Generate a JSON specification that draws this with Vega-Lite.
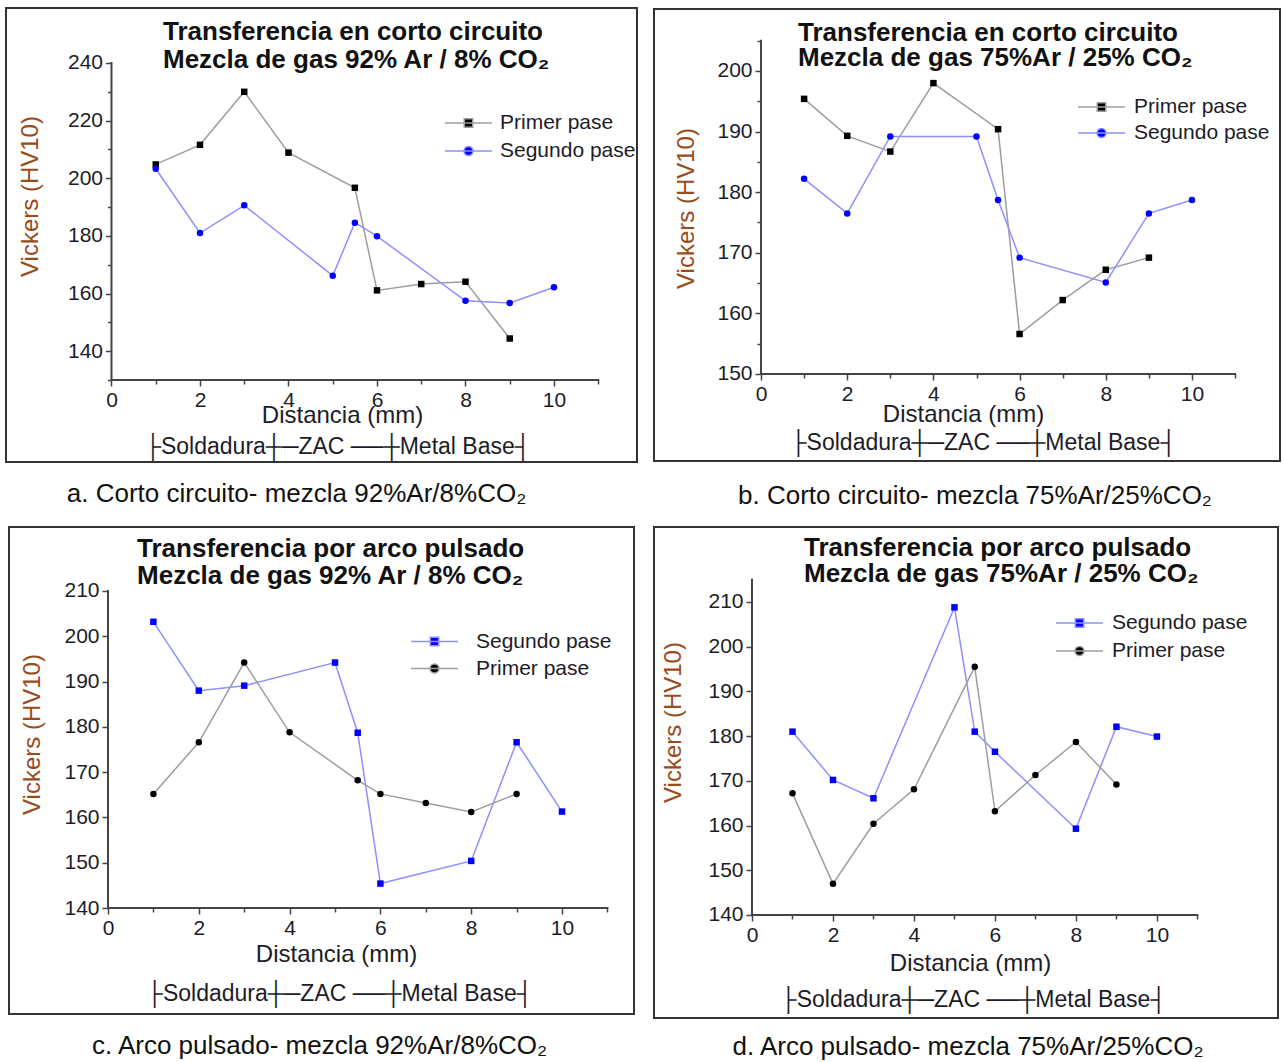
{
  "$schema": "https://vega.github.io/schema/vega-lite/v6.json",
  "padding": {"left": 5, "top": 7, "right": 0, "bottom": 0},
  "background": "white",
  "datasets": {
    "one": [{"k": 1}],
    "a": [
      {"d": 1, "hv": 204.8, "serie": "Primer pase"},
      {"d": 2, "hv": 211.6, "serie": "Primer pase"},
      {"d": 3, "hv": 230.0, "serie": "Primer pase"},
      {"d": 4, "hv": 208.9, "serie": "Primer pase"},
      {"d": 5.5, "hv": 196.7, "serie": "Primer pase"},
      {"d": 6, "hv": 161.1, "serie": "Primer pase"},
      {"d": 7, "hv": 163.3, "serie": "Primer pase"},
      {"d": 8, "hv": 164.1, "serie": "Primer pase"},
      {"d": 9, "hv": 144.4, "serie": "Primer pase"},
      {"d": 1, "hv": 203.3, "serie": "Segundo pase"},
      {"d": 2, "hv": 181.0, "serie": "Segundo pase"},
      {"d": 3, "hv": 190.6, "serie": "Segundo pase"},
      {"d": 5, "hv": 166.2, "serie": "Segundo pase"},
      {"d": 5.5, "hv": 184.6, "serie": "Segundo pase"},
      {"d": 6, "hv": 179.9, "serie": "Segundo pase"},
      {"d": 8, "hv": 157.5, "serie": "Segundo pase"},
      {"d": 9, "hv": 156.7, "serie": "Segundo pase"},
      {"d": 10, "hv": 162.2, "serie": "Segundo pase"}
    ],
    "b": [
      {"d": 1, "hv": 195.4, "serie": "Primer pase"},
      {"d": 2, "hv": 189.3, "serie": "Primer pase"},
      {"d": 3, "hv": 186.7, "serie": "Primer pase"},
      {"d": 4, "hv": 198.0, "serie": "Primer pase"},
      {"d": 5.5, "hv": 190.4, "serie": "Primer pase"},
      {"d": 6, "hv": 156.6, "serie": "Primer pase"},
      {"d": 7, "hv": 162.2, "serie": "Primer pase"},
      {"d": 8, "hv": 167.2, "serie": "Primer pase"},
      {"d": 9, "hv": 169.2, "serie": "Primer pase"},
      {"d": 1, "hv": 182.2, "serie": "Segundo pase"},
      {"d": 2, "hv": 176.5, "serie": "Segundo pase"},
      {"d": 3, "hv": 189.2, "serie": "Segundo pase"},
      {"d": 5, "hv": 189.2, "serie": "Segundo pase"},
      {"d": 5.5, "hv": 178.7, "serie": "Segundo pase"},
      {"d": 6, "hv": 169.2, "serie": "Segundo pase"},
      {"d": 8, "hv": 165.1, "serie": "Segundo pase"},
      {"d": 9, "hv": 176.5, "serie": "Segundo pase"},
      {"d": 10, "hv": 178.7, "serie": "Segundo pase"}
    ],
    "c": [
      {"d": 1, "hv": 203.2, "serie": "Segundo pase"},
      {"d": 2, "hv": 188.0, "serie": "Segundo pase"},
      {"d": 3, "hv": 189.1, "serie": "Segundo pase"},
      {"d": 5, "hv": 194.2, "serie": "Segundo pase"},
      {"d": 5.5, "hv": 178.7, "serie": "Segundo pase"},
      {"d": 6, "hv": 145.4, "serie": "Segundo pase"},
      {"d": 8, "hv": 150.4, "serie": "Segundo pase"},
      {"d": 9, "hv": 176.6, "serie": "Segundo pase"},
      {"d": 10, "hv": 161.3, "serie": "Segundo pase"},
      {"d": 1, "hv": 165.2, "serie": "Primer pase"},
      {"d": 2, "hv": 176.6, "serie": "Primer pase"},
      {"d": 3, "hv": 194.2, "serie": "Primer pase"},
      {"d": 4, "hv": 178.8, "serie": "Primer pase"},
      {"d": 5.5, "hv": 168.2, "serie": "Primer pase"},
      {"d": 6, "hv": 165.2, "serie": "Primer pase"},
      {"d": 7, "hv": 163.2, "serie": "Primer pase"},
      {"d": 8, "hv": 161.2, "serie": "Primer pase"},
      {"d": 9, "hv": 165.2, "serie": "Primer pase"}
    ],
    "dd": [
      {"d": 1, "hv": 181.0, "serie": "Segundo pase"},
      {"d": 2, "hv": 170.2, "serie": "Segundo pase"},
      {"d": 3, "hv": 166.1, "serie": "Segundo pase"},
      {"d": 5, "hv": 208.8, "serie": "Segundo pase"},
      {"d": 5.5, "hv": 181.0, "serie": "Segundo pase"},
      {"d": 6, "hv": 176.5, "serie": "Segundo pase"},
      {"d": 8, "hv": 159.3, "serie": "Segundo pase"},
      {"d": 9, "hv": 182.1, "serie": "Segundo pase"},
      {"d": 10, "hv": 179.9, "serie": "Segundo pase"},
      {"d": 1, "hv": 167.2, "serie": "Primer pase"},
      {"d": 2, "hv": 147.0, "serie": "Primer pase"},
      {"d": 3, "hv": 160.4, "serie": "Primer pase"},
      {"d": 4, "hv": 168.1, "serie": "Primer pase"},
      {"d": 5.5, "hv": 195.5, "serie": "Primer pase"},
      {"d": 6, "hv": 163.2, "serie": "Primer pase"},
      {"d": 7, "hv": 171.3, "serie": "Primer pase"},
      {"d": 8, "hv": 178.7, "serie": "Primer pase"},
      {"d": 9, "hv": 169.2, "serie": "Primer pase"}
    ]
  },
  "columns": 2,
  "concat": [
    {
      "width": 631, "height": 454,
      "title": {"text": "a. Corto circuito- mezcla 92%Ar/8%CO₂", "orient": "bottom", "anchor": "middle", "frame": "group", "offset": 19, "dx": -25, "baseline": "top"},
      "layer": [
        {"data": {"name": "a"}, "transform": [{"filter": "false"}], "mark": {"type": "point", "filled": true, "opacity": 1},
         "encoding": {
           "x": {"field": "d", "type": "quantitative", "scale": {"domain": [-2.384, 11.876], "nice": false, "zero": false},
                 "axis": {"values": [0,1,2,3,4,5,6,7,8,9,10,11], "labelExpr": "datum.value % 2 === 0 ? datum.label : ''",
                          "tickSize": {"condition": {"test": "datum.value % 2 === 0", "value": 6}, "value": 4},
                          "offset": -82, "title": "Distancia (mm)", "titleX": 336, "titleY": 35, "titleBaseline": "middle", "titleAlign": "center"}},
           "y": {"field": "hv", "type": "quantitative", "scale": {"domain": [101.55, 259.08], "nice": false, "zero": false},
                 "axis": {"values": [130,140,150,160,170,180,190,200,210,220,230,240], "labelExpr": "datum.value % 20 === 0 ? datum.label : ''",
                          "tickSize": {"condition": {"test": "datum.value % 20 === 0", "value": 6}, "value": 4},
                          "offset": -105.5, "title": "Vickers (HV10)", "titleX": -81.5, "titleY": 188, "titleAngle": -90, "titleBaseline": "middle", "titleAlign": "center"}},
           "fill": {"field": "serie", "type": "nominal", "scale": {"domain": ["Primer pase", "Segundo pase"], "range": ["#000000", "#0000ff"]},
                    "legend": {"title": null, "orient": "none", "legendX": 452, "legendY": 104.5, "direction": "vertical", "labelOffset": 21, "rowPadding": 6, "padding": 0, "symbolSize": 100, "symbolStrokeWidth": 1.5, "symbolOpacity": 1}},
           "stroke": {"field": "serie", "type": "nominal", "scale": {"domain": ["Primer pase", "Segundo pase"], "range": ["#9e9e9e", "#8f8fff"]}},
           "shape": {"field": "serie", "type": "nominal", "scale": {"domain": ["Primer pase", "Segundo pase"], "range": ["M-4.7,0H4.7M-0.85,-0.85H0.85V0.85H-0.85Z", "M-4.7,0H4.7M0.9,0A0.9,0.9,0,1,1,-0.9,0A0.9,0.9,0,1,1,0.9,0Z"]}}
         }},
        {"data": {"name": "one"}, "mark": {"type": "rule", "color": "#444444", "strokeWidth": 2, "strokeCap": "square"},
         "encoding": {"x": {"datum": 0, "type": "quantitative"}, "y": {"datum": 130, "type": "quantitative"}, "y2": {"datum": 240}}},
        {"data": {"name": "one"}, "mark": {"type": "rule", "color": "#444444", "strokeWidth": 2, "strokeCap": "square"},
         "encoding": {"x": {"datum": 0, "type": "quantitative"}, "x2": {"datum": 11}, "y": {"datum": 130, "type": "quantitative"}}},
        {"data": {"name": "a"}, "mark": {"type": "line", "strokeWidth": 1.5},
         "encoding": {"x": {"field": "d", "type": "quantitative"}, "y": {"field": "hv", "type": "quantitative"}, "stroke": {"field": "serie", "type": "nominal"}}},
        {"data": {"name": "a"}, "transform": [{"filter": "datum.serie === 'Primer pase'"}], "mark": {"type": "point", "filled": true, "size": 42, "opacity": 1, "shape": "square"},
         "encoding": {"x": {"field": "d", "type": "quantitative"}, "y": {"field": "hv", "type": "quantitative"}, "fill": {"field": "serie", "type": "nominal"}}},
        {"data": {"name": "a"}, "transform": [{"filter": "datum.serie === 'Segundo pase'"}], "mark": {"type": "point", "filled": true, "size": 42, "opacity": 1, "shape": "circle"},
         "encoding": {"x": {"field": "d", "type": "quantitative"}, "y": {"field": "hv", "type": "quantitative"}, "fill": {"field": "serie", "type": "nominal"}}},
        {"data": {"name": "one"}, "mark": {"type": "text", "align": "left", "baseline": "middle", "fontSize": 26, "fontWeight": "bold", "lineHeight": 28, "color": "#111111"},
         "encoding": {"x": {"datum": 1.164, "type": "quantitative"}, "y": {"datum": 250.76, "type": "quantitative"}, "text": {"value": ["Transferencia en corto circuito", "Mezcla de gas 92% Ar / 8% CO₂"]}}},
        {"data": {"name": "one"}, "mark": {"type": "text", "align": "left", "baseline": "middle", "fontSize": 23, "color": "#1c1c28"},
         "encoding": {"x": {"datum": 0.75, "type": "quantitative"}, "y": {"datum": 106.75, "type": "quantitative"}, "text": {"value": "├Soldadura┼─ZAC ──┼Metal Base┤"}}}
      ]
    },
    {
      "width": 626, "height": 452,
      "title": {"text": "b. Corto circuito- mezcla 75%Ar/25%CO₂", "orient": "bottom", "anchor": "middle", "frame": "group", "offset": 21.5, "dx": 8, "baseline": "top"},
      "layer": [
        {"data": {"name": "b"}, "transform": [{"filter": "false"}], "mark": {"type": "point", "filled": true, "opacity": 1},
         "encoding": {
           "x": {"field": "d", "type": "quantitative", "scale": {"domain": [-2.483, 12.042], "nice": false, "zero": false},
                 "axis": {"values": [0,1,2,3,4,5,6,7,8,9,10,11], "labelExpr": "datum.value % 2 === 0 ? datum.label : ''",
                          "tickSize": {"condition": {"test": "datum.value % 2 === 0", "value": 6}, "value": 4},
                          "offset": -87, "title": "Distancia (mm)", "titleX": 309, "titleY": 40, "titleBaseline": "middle", "titleAlign": "center"}},
           "y": {"field": "hv", "type": "quantitative", "scale": {"domain": [135.64, 210.23], "nice": false, "zero": false},
                 "axis": {"values": [150,155,160,165,170,175,180,185,190,195,200,205], "labelExpr": "datum.value % 10 === 0 ? datum.label : ''",
                          "tickSize": {"condition": {"test": "datum.value % 10 === 0", "value": 6}, "value": 4},
                          "offset": -107, "title": "Vickers (HV10)", "titleX": -75, "titleY": 199, "titleAngle": -90, "titleBaseline": "middle", "titleAlign": "center"}},
           "fill": {"field": "serie", "type": "nominal", "scale": {"domain": ["Primer pase", "Segundo pase"], "range": ["#000000", "#0000ff"]},
                    "legend": {"title": null, "orient": "none", "legendX": 437, "legendY": 87.5, "direction": "vertical", "labelOffset": 22, "rowPadding": 4, "padding": 0, "symbolSize": 100, "symbolStrokeWidth": 1.5, "symbolOpacity": 1}},
           "stroke": {"field": "serie", "type": "nominal", "scale": {"domain": ["Primer pase", "Segundo pase"], "range": ["#9e9e9e", "#8f8fff"]}},
           "shape": {"field": "serie", "type": "nominal", "scale": {"domain": ["Primer pase", "Segundo pase"], "range": ["M-4.7,0H4.7M-0.85,-0.85H0.85V0.85H-0.85Z", "M-4.7,0H4.7M0.9,0A0.9,0.9,0,1,1,-0.9,0A0.9,0.9,0,1,1,0.9,0Z"]}}
         }},
        {"data": {"name": "one"}, "mark": {"type": "rule", "color": "#444444", "strokeWidth": 2, "strokeCap": "square"},
         "encoding": {"x": {"datum": 0, "type": "quantitative"}, "y": {"datum": 150, "type": "quantitative"}, "y2": {"datum": 205}}},
        {"data": {"name": "one"}, "mark": {"type": "rule", "color": "#444444", "strokeWidth": 2, "strokeCap": "square"},
         "encoding": {"x": {"datum": 0, "type": "quantitative"}, "x2": {"datum": 11}, "y": {"datum": 150, "type": "quantitative"}}},
        {"data": {"name": "b"}, "mark": {"type": "line", "strokeWidth": 1.5},
         "encoding": {"x": {"field": "d", "type": "quantitative"}, "y": {"field": "hv", "type": "quantitative"}, "stroke": {"field": "serie", "type": "nominal"}}},
        {"data": {"name": "b"}, "transform": [{"filter": "datum.serie === 'Primer pase'"}], "mark": {"type": "point", "filled": true, "size": 42, "opacity": 1, "shape": "square"},
         "encoding": {"x": {"field": "d", "type": "quantitative"}, "y": {"field": "hv", "type": "quantitative"}, "fill": {"field": "serie", "type": "nominal"}}},
        {"data": {"name": "b"}, "transform": [{"filter": "datum.serie === 'Segundo pase'"}], "mark": {"type": "point", "filled": true, "size": 42, "opacity": 1, "shape": "circle"},
         "encoding": {"x": {"field": "d", "type": "quantitative"}, "y": {"field": "hv", "type": "quantitative"}, "fill": {"field": "serie", "type": "nominal"}}},
        {"data": {"name": "one"}, "mark": {"type": "text", "align": "left", "baseline": "middle", "fontSize": 26, "fontWeight": "bold", "lineHeight": 25, "color": "#111111"},
         "encoding": {"x": {"datum": 0.858, "type": "quantitative"}, "y": {"datum": 206.27, "type": "quantitative"}, "text": {"value": ["Transferencia en corto circuito", "Mezcla de gas  75%Ar / 25% CO₂"]}}},
        {"data": {"name": "one"}, "mark": {"type": "text", "align": "left", "baseline": "middle", "fontSize": 23, "color": "#1c1c28"},
         "encoding": {"x": {"datum": 0.68, "type": "quantitative"}, "y": {"datum": 138.61, "type": "quantitative"}, "text": {"value": "├Soldadura┼─ZAC ──┼Metal Base┤"}}}
      ]
    },
    {
      "width": 625, "height": 487,
      "title": {"text": "c. Arco pulsado- mezcla 92%Ar/8%CO₂", "orient": "bottom", "anchor": "middle", "frame": "group", "offset": 18.5, "dx": -2, "baseline": "top"},
      "layer": [
        {"data": {"name": "c"}, "transform": [{"filter": "false"}], "mark": {"type": "point", "filled": true, "opacity": 1},
         "encoding": {
           "x": {"field": "d", "type": "quantitative", "scale": {"domain": [-2.181, 11.586], "nice": false, "zero": false},
                 "axis": {"values": [0,1,2,3,4,5,6,7,8,9,10,11], "labelExpr": "datum.value % 2 === 0 ? datum.label : ''",
                          "tickSize": {"condition": {"test": "datum.value % 2 === 0", "value": 6}, "value": 4},
                          "offset": -106, "title": "Distancia (mm)", "titleX": 327, "titleY": 46, "titleBaseline": "middle", "titleAlign": "center"}},
           "y": {"field": "hv", "type": "quantitative", "scale": {"domain": [116.6, 224.13], "nice": false, "zero": false},
                 "axis": {"values": [140,145,150,155,160,165,170,175,180,185,190,195,200,205,210], "labelExpr": "datum.value % 10 === 0 ? datum.label : ''",
                          "tickSize": {"condition": {"test": "datum.value % 10 === 0", "value": 6}, "value": 4},
                          "offset": -99, "title": "Vickers (HV10)", "titleX": -76, "titleY": 207, "titleAngle": -90, "titleBaseline": "middle", "titleAlign": "center"}},
           "fill": {"field": "serie", "type": "nominal", "scale": {"domain": ["Segundo pase", "Primer pase"], "range": ["#0000ff", "#000000"]},
                    "legend": {"title": null, "orient": "none", "legendX": 415, "legendY": 104, "direction": "vertical", "labelOffset": 31, "rowPadding": 5, "padding": 0, "symbolSize": 100, "symbolStrokeWidth": 1.5, "symbolOpacity": 1}},
           "stroke": {"field": "serie", "type": "nominal", "scale": {"domain": ["Segundo pase", "Primer pase"], "range": ["#8f8fff", "#9e9e9e"]}},
           "shape": {"field": "serie", "type": "nominal", "scale": {"domain": ["Segundo pase", "Primer pase"], "range": ["M-4.7,0H4.7M-0.85,-0.85H0.85V0.85H-0.85Z", "M-4.7,0H4.7M0.9,0A0.9,0.9,0,1,1,-0.9,0A0.9,0.9,0,1,1,0.9,0Z"]}}
         }},
        {"data": {"name": "one"}, "mark": {"type": "rule", "color": "#444444", "strokeWidth": 2, "strokeCap": "square"},
         "encoding": {"x": {"datum": 0, "type": "quantitative"}, "y": {"datum": 140, "type": "quantitative"}, "y2": {"datum": 210}}},
        {"data": {"name": "one"}, "mark": {"type": "rule", "color": "#444444", "strokeWidth": 2, "strokeCap": "square"},
         "encoding": {"x": {"datum": 0, "type": "quantitative"}, "x2": {"datum": 11}, "y": {"datum": 140, "type": "quantitative"}}},
        {"data": {"name": "c"}, "mark": {"type": "line", "strokeWidth": 1.5},
         "encoding": {"x": {"field": "d", "type": "quantitative"}, "y": {"field": "hv", "type": "quantitative"}, "stroke": {"field": "serie", "type": "nominal"}}},
        {"data": {"name": "c"}, "transform": [{"filter": "datum.serie === 'Segundo pase'"}], "mark": {"type": "point", "filled": true, "size": 42, "opacity": 1, "shape": "square"},
         "encoding": {"x": {"field": "d", "type": "quantitative"}, "y": {"field": "hv", "type": "quantitative"}, "fill": {"field": "serie", "type": "nominal"}}},
        {"data": {"name": "c"}, "transform": [{"filter": "datum.serie === 'Primer pase'"}], "mark": {"type": "point", "filled": true, "size": 42, "opacity": 1, "shape": "circle"},
         "encoding": {"x": {"field": "d", "type": "quantitative"}, "y": {"field": "hv", "type": "quantitative"}, "fill": {"field": "serie", "type": "nominal"}}},
        {"data": {"name": "one"}, "mark": {"type": "text", "align": "left", "baseline": "middle", "fontSize": 26, "fontWeight": "bold", "lineHeight": 27, "color": "#111111"},
         "encoding": {"x": {"datum": 0.639, "type": "quantitative"}, "y": {"datum": 219.3, "type": "quantitative"}, "text": {"value": ["Transferencia por arco pulsado", "Mezcla de gas 92% Ar / 8% CO₂"]}}},
        {"data": {"name": "one"}, "mark": {"type": "text", "align": "left", "baseline": "middle", "fontSize": 23, "color": "#1c1c28"},
         "encoding": {"x": {"datum": 0.85, "type": "quantitative"}, "y": {"datum": 121.0, "type": "quantitative"}, "text": {"value": "├Soldadura┼─ZAC ──┼Metal Base┤"}}}
      ]
    },
    {
      "width": 624, "height": 491,
      "title": {"text": "d. Arco pulsado- mezcla 75%Ar/25%CO₂", "orient": "bottom", "anchor": "middle", "frame": "group", "offset": 15.5, "dx": 2, "baseline": "top"},
      "layer": [
        {"data": {"name": "dd"}, "transform": [{"filter": "false"}], "mark": {"type": "point", "filled": true, "opacity": 1},
         "encoding": {
           "x": {"field": "d", "type": "quantitative", "scale": {"domain": [-2.42, 12.99], "nice": false, "zero": false},
                 "axis": {"values": [0,1,2,3,4,5,6,7,8,9,10,11], "labelExpr": "datum.value % 2 === 0 ? datum.label : ''",
                          "tickSize": {"condition": {"test": "datum.value % 2 === 0", "value": 6}, "value": 4},
                          "offset": -103, "title": "Distancia (mm)", "titleX": 316, "titleY": 48, "titleBaseline": "middle", "titleAlign": "center"}},
           "y": {"field": "hv", "type": "quantitative", "scale": {"domain": [116.96, 226.77], "nice": false, "zero": false},
                 "axis": {"values": [140,145,150,155,160,165,170,175,180,185,190,195,200,205,210,215], "labelExpr": "datum.value % 10 === 0 ? datum.label : ''",
                          "tickSize": {"condition": {"test": "datum.value % 10 === 0", "value": 6}, "value": 4},
                          "offset": -98, "title": "Vickers (HV10)", "titleX": -79, "titleY": 195, "titleAngle": -90, "titleBaseline": "middle", "titleAlign": "center"}},
           "fill": {"field": "serie", "type": "nominal", "scale": {"domain": ["Segundo pase", "Primer pase"], "range": ["#0000ff", "#000000"]},
                    "legend": {"title": null, "orient": "none", "legendX": 415, "legendY": 85.5, "direction": "vertical", "labelOffset": 22, "rowPadding": 6, "padding": 0, "symbolSize": 100, "symbolStrokeWidth": 1.5, "symbolOpacity": 1}},
           "stroke": {"field": "serie", "type": "nominal", "scale": {"domain": ["Segundo pase", "Primer pase"], "range": ["#8f8fff", "#9e9e9e"]}},
           "shape": {"field": "serie", "type": "nominal", "scale": {"domain": ["Segundo pase", "Primer pase"], "range": ["M-4.7,0H4.7M-0.85,-0.85H0.85V0.85H-0.85Z", "M-4.7,0H4.7M0.9,0A0.9,0.9,0,1,1,-0.9,0A0.9,0.9,0,1,1,0.9,0Z"]}}
         }},
        {"data": {"name": "one"}, "mark": {"type": "rule", "color": "#444444", "strokeWidth": 2, "strokeCap": "square"},
         "encoding": {"x": {"datum": 0, "type": "quantitative"}, "y": {"datum": 140, "type": "quantitative"}, "y2": {"datum": 215}}},
        {"data": {"name": "one"}, "mark": {"type": "rule", "color": "#444444", "strokeWidth": 2, "strokeCap": "square"},
         "encoding": {"x": {"datum": 0, "type": "quantitative"}, "x2": {"datum": 11}, "y": {"datum": 140, "type": "quantitative"}}},
        {"data": {"name": "dd"}, "mark": {"type": "line", "strokeWidth": 1.5},
         "encoding": {"x": {"field": "d", "type": "quantitative"}, "y": {"field": "hv", "type": "quantitative"}, "stroke": {"field": "serie", "type": "nominal"}}},
        {"data": {"name": "dd"}, "transform": [{"filter": "datum.serie === 'Segundo pase'"}], "mark": {"type": "point", "filled": true, "size": 42, "opacity": 1, "shape": "square"},
         "encoding": {"x": {"field": "d", "type": "quantitative"}, "y": {"field": "hv", "type": "quantitative"}, "fill": {"field": "serie", "type": "nominal"}}},
        {"data": {"name": "dd"}, "transform": [{"filter": "datum.serie === 'Primer pase'"}], "mark": {"type": "point", "filled": true, "size": 42, "opacity": 1, "shape": "circle"},
         "encoding": {"x": {"field": "d", "type": "quantitative"}, "y": {"field": "hv", "type": "quantitative"}, "fill": {"field": "serie", "type": "nominal"}}},
        {"data": {"name": "one"}, "mark": {"type": "text", "align": "left", "baseline": "middle", "fontSize": 26, "fontWeight": "bold", "lineHeight": 26, "color": "#111111"},
         "encoding": {"x": {"datum": 1.284, "type": "quantitative"}, "y": {"datum": 222.08, "type": "quantitative"}, "text": {"value": ["Transferencia por arco pulsado", "Mezcla de gas  75%Ar / 25% CO₂"]}}},
        {"data": {"name": "one"}, "mark": {"type": "text", "align": "left", "baseline": "middle", "fontSize": 23, "color": "#1c1c28"},
         "encoding": {"x": {"datum": 0.7, "type": "quantitative"}, "y": {"datum": 120.99, "type": "quantitative"}, "text": {"value": "├Soldadura┼─ZAC ──┼Metal Base┤"}}}
      ]
    }
  ],
  "spacing": {"row": 65, "column": 17},
  "center": true,
  "bounds": "flush",
  "resolve": {
    "scale": {"fill": "independent", "shape": "independent", "stroke": "independent"},
    "legend": {"fill": "independent", "shape": "independent", "stroke": "independent"}
  },
  "config": {
    "font": "Liberation Sans",
    "view": {"stroke": "#333333", "strokeWidth": 2},
    "axis": {"grid": false, "domain": false, "labelFontSize": 21, "labelColor": "#1c1c28", "labelPadding": 3, "labelOverlap": false, "labelFlush": false,
             "tickColor": "#444444", "tickWidth": 1.5, "titleFontSize": 24, "titleFontWeight": "normal", "titleColor": "#1c1c28", "titlePadding": 0},
    "axisY": {"titleColor": "#9a4b1c"},
    "title": {"fontSize": 26, "fontWeight": "normal", "color": "#111111", "font": "Liberation Sans"},
    "legend": {"labelFontSize": 21, "labelColor": "#1c1c28", "labelFont": "Liberation Sans"}
  }
}
